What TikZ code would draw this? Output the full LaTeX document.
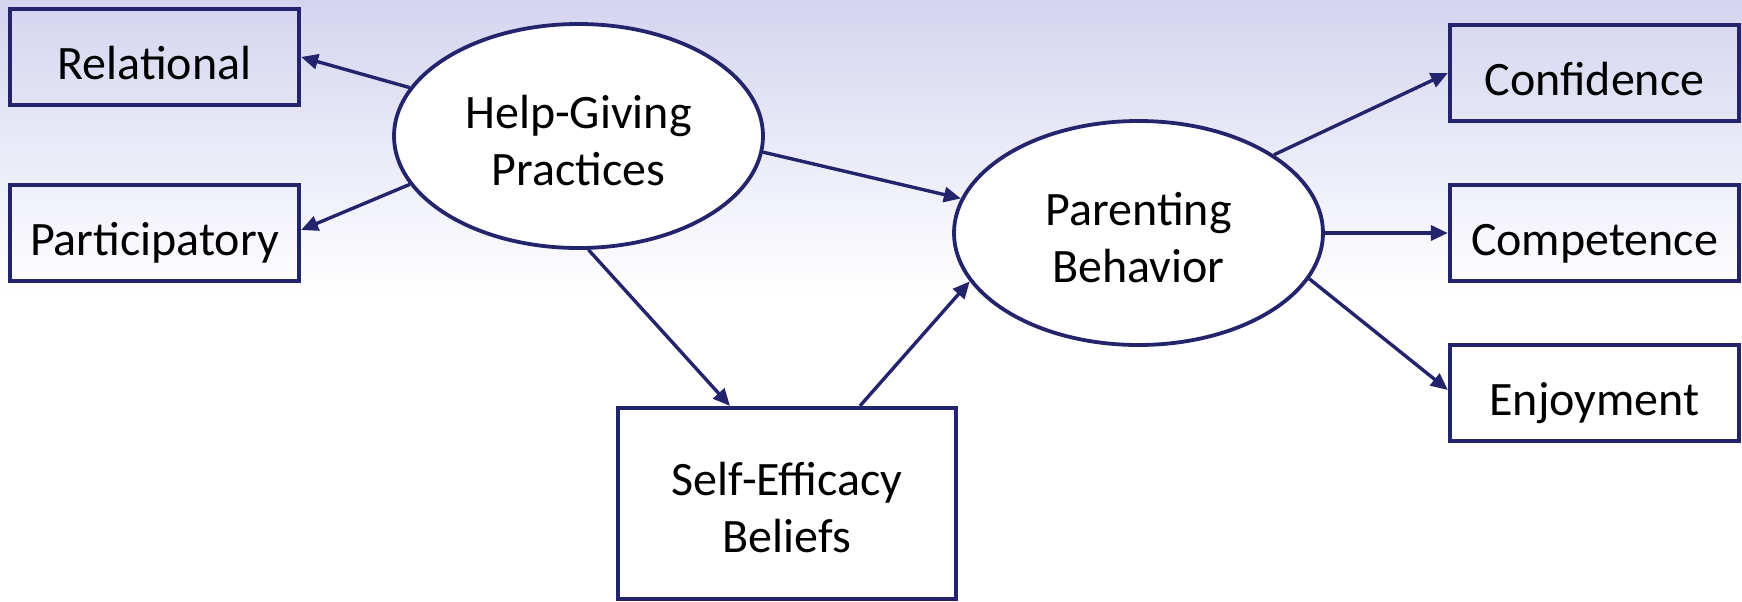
\documentclass[tikz,border=0pt]{standalone}
\usepackage{fontspec}
\setmainfont{Carlito}
\usetikzlibrary{shapes.geometric,arrows.meta}
\definecolor{navy}{RGB}{36,36,108}
\definecolor{lav}{RGB}{212,212,240}
\newcommand\tstrut{\rule{0pt}{21pt}}
\begin{document}
\begin{tikzpicture}[x=0.5pt,y=-0.5pt,
  txt/.style={font=\fontsize{24}{28.5}\selectfont,align=center},
  box/.style={txt,draw=navy,line width=2.1pt,inner sep=0pt,minimum width=144.5pt,minimum height=48pt,text height=22pt,text depth=0pt},
  bigbox/.style={txt,draw=navy,fill=white,line width=2.1pt,inner sep=0pt,minimum width=169pt,minimum height=95.5pt},
  latent/.style={txt,ellipse,draw=navy,fill=white,line width=1.9pt,inner sep=0pt,minimum width=184.5pt,minimum height=112pt},
  arr/.style={draw=navy,line width=1.7pt,-{Triangle[length=8.5pt,width=7.5pt]}}]
\useasboundingbox (0,0) rectangle (1742,601);
\fill[white] (0,0) rectangle (1742,601);
\shade[top color=lav,bottom color=white] (0,0) rectangle (1742,295);

\node[box] (rel) at (154.5,57) {Relational};
\node[box] (part) at (154.5,233) {Participatory};
\node[latent] (hg) at (578.5,136) {\tstrut Help-Giving\\Practices};
\node[latent] (pb) at (1138.5,233) {\tstrut Parenting\\Behavior};
\node[bigbox] (se) at (787,503.5) {\tstrut Self-Efficacy\\Beliefs};
\node[box] (conf) at (1594.5,73) {Confidence};
\node[box] (comp) at (1594.5,233) {Competence};
\node[box] (enj) at (1594.5,393) {Enjoyment};

\draw[arr] (hg.164.4) -- (rel.east);
\draw[arr] (hg.196.2) -- ([yshift=1.5pt]part.east);
\draw[arr] (hg.-5.3) -- (pb.169.1);
\draw[arr] (hg.-85.7) -- ([xshift=-28.5pt]se.north);
\draw[arr] ([xshift=36.5pt]se.north) -- (pb.196.5);
\draw[arr] (pb.30.7) -- (conf.west);
\draw[arr] (pb.east) -- (comp.west);
\draw[arr] (pb.-15.6) -- ([yshift=1.5pt]enj.west);
\end{tikzpicture}
\end{document}
